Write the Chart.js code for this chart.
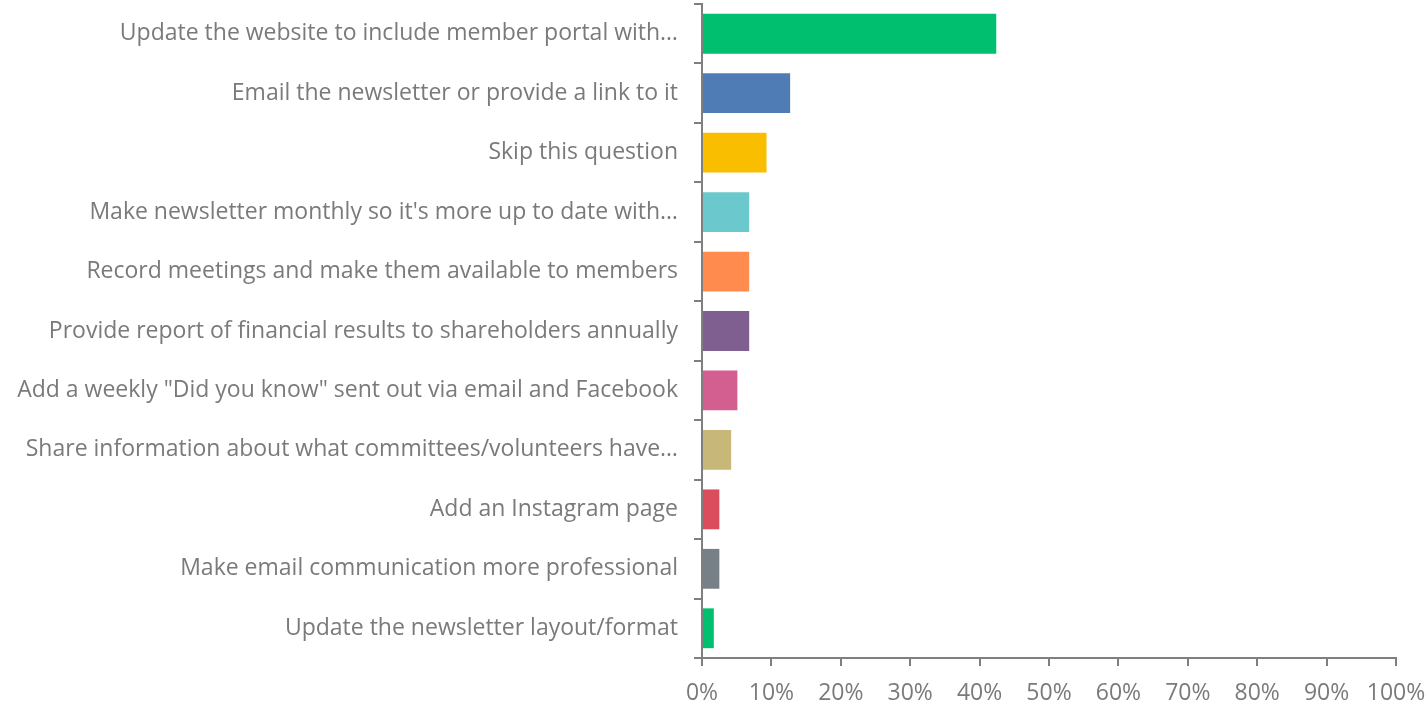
<!DOCTYPE html>
<html>
<head>
  <meta charset="UTF-8">
  <title>Survey responses</title>
  <style>
    body {
      margin: 0;
      background-color: #fff;
      overflow: hidden;
    }
    .grafica-container {
      width: 1427px;
      height: 707px;
    }
  </style>
</head>
<body>
  <div class="grafica-container">
    <canvas id="grafica"></canvas>
  </div>

  <script src="https://cdn.jsdelivr.net/npm/chart.js"></script>
  <script>
    // answers (labels as shown, truncated ones keep the ellipsis)
    var categorias = [
      'Update the website to include member portal with…',
      'Email the newsletter or provide a link to it',
      'Skip this question',
      "Make newsletter monthly so it's more up to date with…",
      'Record meetings and make them available to members',
      'Provide report of financial results to shareholders annually',
      'Add a weekly "Did you know" sent out via email and Facebook',
      'Share information about what committees/volunteers have…',
      'Add an Instagram page',
      'Make email communication more professional',
      'Update the newsletter layout/format'
    ];

    // percent of respondents
    var porcentajes = [42.4, 12.7, 9.3, 6.8, 6.8, 6.8, 5.1, 4.2, 2.5, 2.5, 1.7];

    var colores = ['#00BF6F', '#507CB6', '#F9BE00', '#6BC8CD', '#FF8B4F', '#7F5F90',
                   '#D25F90', '#C7B879', '#DB4D5C', '#768086', '#00BF6F'];

    var ticksX = [0, 10, 20, 30, 40, 50, 60, 70, 80, 90, 100];

    var gris = '#7f7f7f';
    var fuente = { family: '"Open Sans", Lato, sans-serif', size: 23 };

    var ctx = document.getElementById('grafica').getContext('2d');

    var myChart = new Chart(ctx, {
      type: 'bar',
      data: {
        labels: categorias,
        datasets: [{
          data: porcentajes,
          backgroundColor: colores,
          borderWidth: 0,
          categoryPercentage: 0.67,
          barPercentage: 1.0
        }]
      },
      options: {
        indexAxis: 'y',
        responsive: true,
        maintainAspectRatio: false,
        animation: false,
        layout: { padding: { top: 4, right: 31, left: 0, bottom: 0 } },
        plugins: {
          legend: { display: false },
          tooltip: { enabled: false }
        },
        scales: {
          x: {
            min: 0,
            max: 100,
            afterBuildTicks: function (axis) {
              axis.ticks = ticksX.map(function (v) { return { value: v }; });
            },
            afterFit: function (axis) {
              axis.height = 49;
              axis.paddingLeft = 0;
              axis.paddingRight = 0;
            },
            border: { display: true, color: gris, width: 2 },
            grid: { drawOnChartArea: false, color: gris, lineWidth: 2, tickLength: 8 },
            ticks: {
              color: '#7a7a7a',
              font: fuente,
              padding: 14,
              maxRotation: 0,
              callback: function (v) { return v + '%'; }
            }
          },
          y: {
            afterFit: function (axis) {
              axis.width = 702;
              axis.paddingTop = 0;
              axis.paddingBottom = 0;
            },
            border: { display: true, color: gris, width: 2 },
            grid: { drawOnChartArea: false, color: gris, lineWidth: 2, tickLength: 8, offset: true },
            ticks: {
              color: '#7a7a7a',
              font: fuente,
              padding: 16,
              autoSkip: false
            }
          }
        }
      }
    });
  </script>
</body>
</html>
